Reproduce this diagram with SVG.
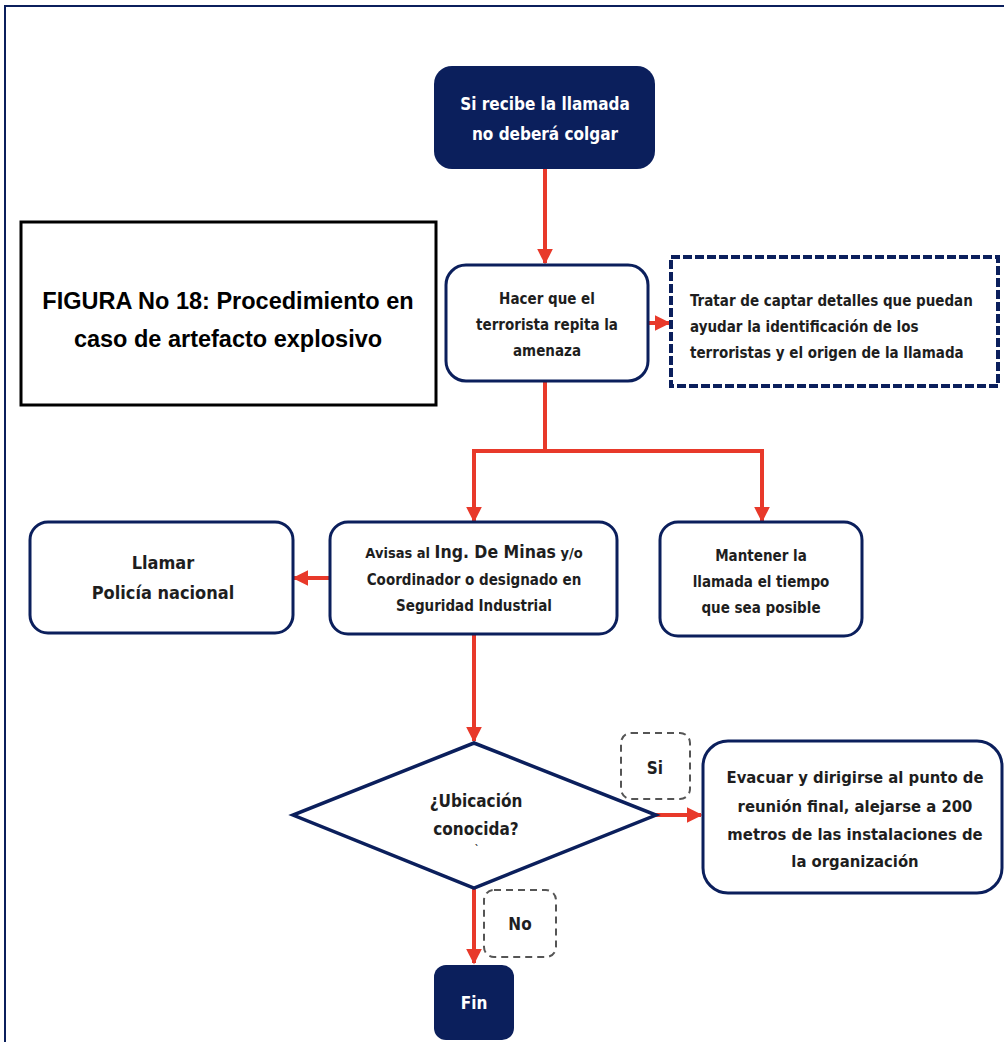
<svg xmlns="http://www.w3.org/2000/svg" width="1004" height="1042" viewBox="0 0 1004 1042">
<style>
  .t{font-family:"Liberation Sans Narrow","DejaVu Sans Condensed","Liberation Sans",sans-serif;fill:#1e1e1e;text-anchor:middle;font-weight:bold;}
  .w{fill:#ffffff;}
  .box{fill:#ffffff;stroke:#0b1f5c;stroke-width:3;}
  .dark{fill:#0b1f5c;}
  .lbl{fill:#ffffff;stroke:#555555;stroke-width:2;stroke-dasharray:7 5;}
  .con{fill:none;stroke:#e8392a;stroke-width:4;}
</style>
<defs>
  <marker id="ah" viewBox="0 0 10 10" refX="9" refY="5" markerWidth="4" markerHeight="4" markerUnits="strokeWidth" orient="auto">
    <path d="M0,0 L10,5 L0,10 z" fill="#e8392a"/>
  </marker>
</defs>
<rect width="1004" height="1042" fill="#ffffff"/>
<g id="frame">
  <path d="M5,1042 V6 H1004" fill="none" stroke="#0b1f5c" stroke-width="2"/>
</g>
<g id="connectors">
  <path class="con" d="M545,169 V263" marker-end="url(#ah)"/>
  <path class="con" d="M648,323 H669" marker-end="url(#ah)"/>
  <path class="con" d="M545,381 V451 H474 V521" marker-end="url(#ah)"/>
  <path class="con" d="M545,451 H762 V521" marker-end="url(#ah)"/>
  <path class="con" d="M330,578 H294" marker-end="url(#ah)"/>
  <path class="con" d="M474,634 V741" marker-end="url(#ah)"/>
  <path class="con" d="M656,815 H701" marker-end="url(#ah)"/>
  <path class="con" d="M474,888 V963" marker-end="url(#ah)"/>
</g>
<g id="title">
  <rect x="21" y="222" width="415" height="183" fill="#ffffff" stroke="#000000" stroke-width="3"/>
  <text class="t" x="228" y="309" font-size="23.5" style="font-family:'Liberation Sans','DejaVu Sans',sans-serif;fill:#000">FIGURA No 18: Procedimiento en</text>
  <text class="t" x="228" y="347" font-size="23.5" style="font-family:'Liberation Sans','DejaVu Sans',sans-serif;fill:#000">caso de artefacto explosivo</text>
</g>
<g id="start">
  <rect class="dark" x="434" y="66" width="221" height="103" rx="18"/>
  <text class="t w" x="545" y="110" font-size="17">Si recibe la llamada</text>
  <text class="t w" x="545" y="140" font-size="17">no deberá colgar</text>
</g>
<g id="repetir">
  <rect class="box" x="446" y="265" width="202" height="116" rx="20"/>
  <text class="t" x="547" y="304" font-size="15">Hacer que el</text>
  <text class="t" x="547" y="330" font-size="15">terrorista repita la</text>
  <text class="t" x="547" y="356" font-size="15">amenaza</text>
</g>
<g id="detalles">
  <rect x="671" y="257" width="327" height="129" fill="#ffffff" stroke="#0b1f5c" stroke-width="4" stroke-dasharray="9 3"/>
  <text class="t" x="690" y="306" font-size="15" style="text-anchor:start">Tratar de captar detalles que puedan</text>
  <text class="t" x="690" y="332" font-size="15" style="text-anchor:start">ayudar la identificación de los</text>
  <text class="t" x="690" y="358" font-size="15" style="text-anchor:start">terroristas y el origen de la llamada</text>
</g>
<g id="llamar">
  <rect class="box" x="30" y="522" width="263" height="111" rx="18"/>
  <text class="t" x="163" y="569" font-size="18">Llamar</text>
  <text class="t" x="163" y="599" font-size="18">Policía nacional</text>
</g>
<g id="avisar">
  <rect class="box" x="330" y="522" width="287" height="112" rx="18"/>
  <text class="t" x="474" y="558" font-size="14.5">Avisas al <tspan font-size="17.5">Ing. De Minas</tspan> y/o</text>
  <text class="t" x="474" y="585" font-size="15">Coordinador o designado en</text>
  <text class="t" x="474" y="611" font-size="15">Seguridad Industrial</text>
</g>
<g id="mantener">
  <rect class="box" x="660" y="522" width="202" height="114" rx="18"/>
  <text class="t" x="761" y="561" font-size="15">Mantener la</text>
  <text class="t" x="761" y="587" font-size="15">llamada el tiempo</text>
  <text class="t" x="761" y="613" font-size="15">que sea posible</text>
</g>
<g id="ubicacion">
  <polygon points="474,743 656,815 474,888 293,815" fill="#ffffff" stroke="#0b1f5c" stroke-width="3.5" stroke-linejoin="miter"/>
  <text class="t" x="476" y="807" font-size="17">¿Ubicación</text>
  <text class="t" x="476" y="835" font-size="17">conocida?</text>
  <text class="t" x="477" y="853" font-size="10">`</text>
</g>
<g id="si">
  <rect class="lbl" x="621" y="733" width="69" height="66" rx="10"/>
  <text class="t" x="655" y="774" font-size="17">Si</text>
</g>
<g id="evacuar">
  <rect class="box" x="703" y="741" width="299" height="152" rx="25"/>
  <text class="t" x="855" y="783" font-size="16.5">Evacuar y dirigirse al punto de</text>
  <text class="t" x="855" y="812" font-size="16.5">reunión final, alejarse a 200</text>
  <text class="t" x="855" y="840" font-size="16.5">metros de las instalaciones de</text>
  <text class="t" x="855" y="867" font-size="16.5">la organización</text>
</g>
<g id="no">
  <rect class="lbl" x="484" y="890" width="72" height="67" rx="10"/>
  <text class="t" x="520" y="930" font-size="17">No</text>
</g>
<g id="fin">
  <rect class="dark" x="434" y="965" width="80" height="75" rx="12"/>
  <text class="t w" x="474" y="1009" font-size="17">Fin</text>
</g>
</svg>
